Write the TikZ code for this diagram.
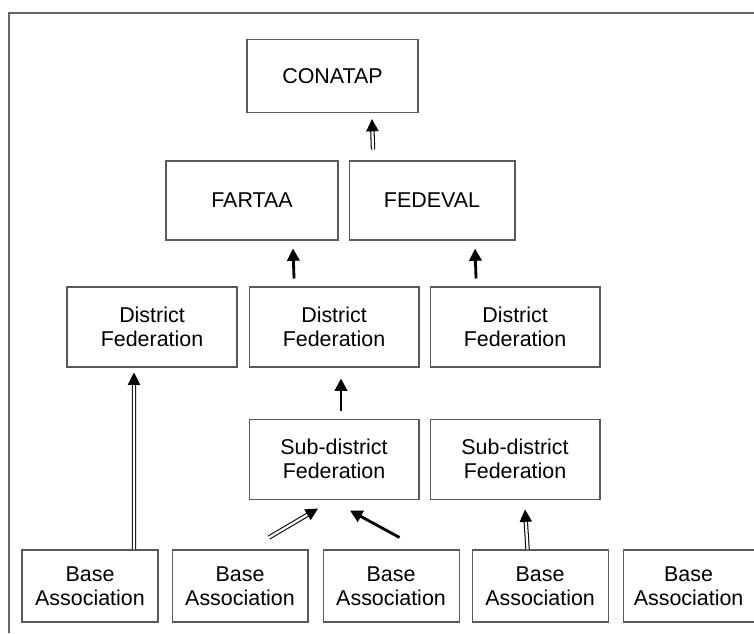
\documentclass[tikz,border=0pt]{standalone}
\usepackage{fontspec}
\setmainfont{Liberation Sans}
\usetikzlibrary{arrows.meta,positioning}

\begin{document}
\begin{tikzpicture}[x=0.02cm,y=-0.02cm,
  box/.style={draw=black!65,line width=0.6pt,align=center,inner sep=0pt,
    font={\fontsize{12.2}{13.7}\selectfont}},
  hollow/.style={double=white,double distance=1.3pt,line width=0.6pt,
    -{Triangle[length=7pt,width=7pt]}},
  solid/.style={line width=1.6pt,-{Triangle[length=7pt,width=7pt]}}
]
  \useasboundingbox (0,0) rectangle (754,633);
  \draw[black!60,line width=0.8pt] (9,633) -- (9,13) -- (754,13);

  \node[box,minimum width=3.42cm,minimum height=1.46cm] (con) at (332.5,76) {CONATAP};
  \node[box,minimum width=3.44cm,minimum height=1.58cm] (far) at (252,200.5) {FARTAA};
  \node[box,minimum width=3.32cm,minimum height=1.58cm,right=0.2cm of far] (fed) {FEDEVAL};

  \node[box,minimum width=3.4cm,minimum height=1.6cm] (d1) at (152,327) {District\\Federation};
  \node[box,minimum width=3.4cm,minimum height=1.6cm,right=0.22cm of d1] (d2) {District\\Federation};
  \node[box,minimum width=3.4cm,minimum height=1.6cm,right=0.2cm of d2] (d3) {District\\Federation};

  \node[box,minimum width=3.4cm,minimum height=1.6cm,below=1.02cm of d2] (s1) {Sub-district\\Federation};
  \node[box,minimum width=3.4cm,minimum height=1.6cm,below=1.02cm of d3] (s2) {Sub-district\\Federation};

  \node[box,minimum width=2.72cm,minimum height=1.44cm] (b1) at (90,586) {Base\\Association};
  \node[box,minimum width=2.72cm,minimum height=1.44cm,right=0.26cm of b1] (b2) {Base\\Association};
  \node[box,minimum width=2.72cm,minimum height=1.44cm,right=0.28cm of b2] (b3) {Base\\Association};
  \node[box,minimum width=2.72cm,minimum height=1.44cm,right=0.24cm of b3] (b4) {Base\\Association};
  \node[box,minimum width=2.62cm,minimum height=1.44cm,right=0.28cm of b4] (b5) {Base\\Association};

  \draw[hollow] ([xshift=-1.18cm,yshift=0.22cm]fed.north) -- ([xshift=0.79cm,yshift=-0.12cm]con.south);
  \draw[solid] ([xshift=-0.8cm,yshift=0.16cm]d2.north) -- ([xshift=0.82cm,yshift=-0.16cm]far.south);
  \draw[solid] ([xshift=-0.78cm,yshift=0.16cm]d3.north) -- ([xshift=0.86cm,yshift=-0.16cm]fed.south);
  \draw[hollow] ([xshift=0.88cm]b1.north) -- ([xshift=-0.36cm,yshift=-0.1cm]d1.south);
  \draw[solid] ([xshift=0.14cm,yshift=0.16cm]s1.north) -- ([xshift=0.14cm,yshift=-0.22cm]d2.south);
  \draw[hollow] ([xshift=0.58cm,yshift=0.24cm]b2.north) -- ([xshift=-0.32cm,yshift=-0.18cm]s1.south);
  \draw[solid] ([xshift=0.17cm,yshift=0.24cm]b3.north) -- ([xshift=0.32cm,yshift=-0.22cm]s1.south);
  \draw[hollow] ([xshift=-0.25cm]b4.north) -- ([xshift=0.2cm,yshift=-0.2cm]s2.south);
\end{tikzpicture}
\end{document}
